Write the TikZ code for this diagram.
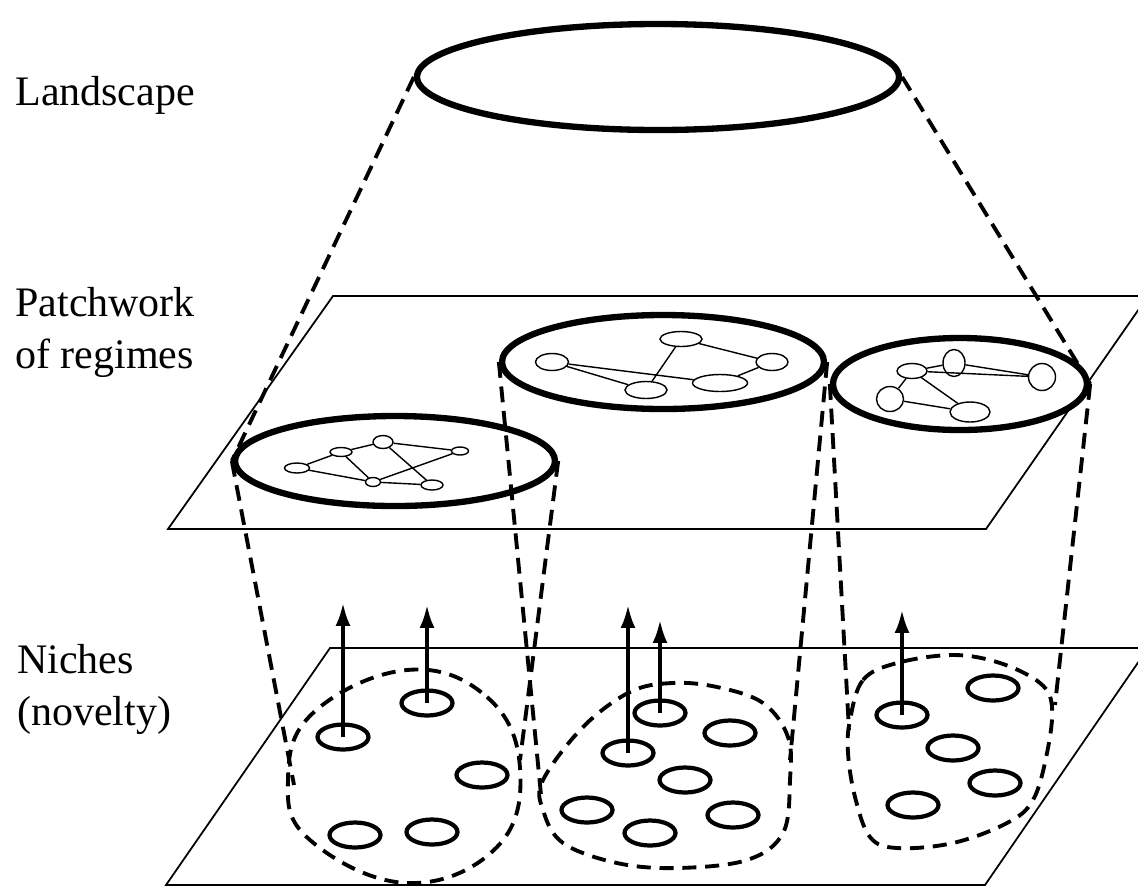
\documentclass[tikz,border=0pt]{standalone}
\usepackage{fontspec}
\setmainfont{Liberation Serif}
\usetikzlibrary{shapes.geometric,arrows.meta}
\tikzset{
    plane/.style={line width=1pt},
    regime/.style={draw, ellipse, line width=3.6pt, inner sep=0pt, fill=white},
    conn/.style={line width=2.2pt, dash pattern=on 9pt off 5pt},
    knot/.style={draw, ellipse, line width=0.8pt, inner sep=0pt, fill=white},
    link/.style={line width=0.8pt},
    niche/.style={draw, ellipse, line width=2.4pt, inner sep=0pt, minimum width=1.02cm, minimum height=0.5cm},
    blob/.style={line width=2.2pt, dash pattern=on 8pt off 5pt},
    rise/.style={line width=2pt, -{Latex[length=13pt,width=8.5pt]}},
    layer/.style={align=left, anchor=base west, inner sep=0pt, font=\fontsize{23.9}{29.5}\selectfont}
}
\newcommand{\knot}[5]{
    \node[knot, minimum width=#4*0.02cm, minimum height=#5*0.02cm] (#1) at (#2,#3) {}
}

\begin{document}
\begin{tikzpicture}[x=0.02cm,y=-0.02cm]
            \useasboundingbox (0,0) rectangle (1138,890);
            \clip (0,0) rectangle (1138,890);

            \node[layer] (landscape) at (15,105) {Landscape};
            \node[layer] (patchwork) at (15,368) {Patchwork\\of regimes};
            \node[layer] (niches) at (17,725) {Niches\\(novelty)};

            \draw[plane] (333,296) -- (1148,296) -- (986,529) -- (168,529) -- cycle;
            \draw[plane] (330,648) -- (1148,648) -- (985,885) -- (166,885) -- cycle;

            \draw[blob] plot[smooth cycle, tension=0.7] coordinates {(407,670) (487,697) (520,768) (497,847) (407,883) (310,840) (288,780) (313,713)};
            \draw[blob] plot[smooth cycle, tension=0.6] coordinates {(543,780) (583,727) (630,692) (672,683) (717,687) (763,703) (788,737) (790,780) (783,833) (747,860) (677,868) (617,863) (563,843) (543,810)};
            \draw[blob] plot[smooth cycle, tension=0.6] coordinates {(850,720) (863,680) (897,663) (953,655) (1000,663) (1040,683) (1052,707) (1047,753) (1033,800) (1007,823) (953,843) (897,848) (870,837) (855,797) (848,753)};

            \node[niche] (n1) at (343,737) {};
            \node[niche] (n2) at (427,703) {};
            \node[niche] (n3) at (482,775) {};
            \node[niche] (n4) at (355,835) {};
            \node[niche] (n5) at (432,832) {};
            \node[niche] (n6) at (660,713) {};
            \node[niche] (n7) at (730,733) {};
            \node[niche] (n8) at (628,753) {};
            \node[niche] (n9) at (685,780) {};
            \node[niche] (n10) at (587,810) {};
            \node[niche] (n11) at (650,833) {};
            \node[niche] (n12) at (733,815) {};
            \node[niche] (n13) at (902,715) {};
            \node[niche] (n14) at (993,688) {};
            \node[niche] (n15) at (953,748) {};
            \node[niche] (n16) at (995,783) {};
            \node[niche] (n17) at (913,805) {};

            \coordinate (t1) at (343,603);
            \coordinate (t2) at (427,605);
            \coordinate (t3) at (628,605);
            \coordinate (t4) at (660,620);
            \coordinate (t5) at (902,610);
            \draw[rise] (n1.center) -- (t1);
            \draw[rise] (n2.center) -- (t2);
            \draw[rise] (n8.center) -- (t3);
            \draw[rise] (n6.center) -- (t4);
            \draw[rise] (n13.center) -- (t5);

            \node[regime, minimum width=482*0.02cm, minimum height=106*0.02cm] (land) at (658,77) {};
            \node[regime, minimum width=320*0.02cm, minimum height=90*0.02cm] (reg1) at (395,461) {};
            \node[regime, minimum width=322*0.02cm, minimum height=94*0.02cm] (reg2) at (663,362) {};
            \node[regime, minimum width=254*0.02cm, minimum height=92*0.02cm] (reg3) at (960,384) {};

            \coordinate (b1) at (294,785);
            \coordinate (b2) at (520,760);
            \coordinate (b3) at (541,795);
            \coordinate (b4) at (790,760);
            \coordinate (b5) at (849,730);
            \coordinate (b6) at (1055,705);
            \draw[conn] (land.west) -- (reg1.west);
            \draw[conn] (land.east) -- (reg3.east);
            \draw[conn] (reg1.west) -- (b1);
            \draw[conn] (reg1.east) -- (b2);
            \draw[conn] (reg2.west) -- (b3);
            \draw[conn] (reg2.east) -- (b4);
            \draw[conn] (reg3.west) -- (b5);
            \draw[conn] (reg3.east) -- (b6);

            % left regime
            \knot{l1}{297}{468}{25}{10};
            \knot{l2}{341}{452}{22}{9};
            \knot{l3}{383}{442}{20}{13};
            \knot{l4}{460}{451}{17}{8};
            \knot{l5}{373}{482}{15}{9};
            \knot{l6}{432}{485}{22}{10};
            \draw[link] (l1) -- (l2) (l1) -- (l5) (l2) -- (l3) (l2) -- (l5)
                        (l3) -- (l4) (l3) -- (l6) (l5) -- (l4) (l5) -- (l6);

            % middle regime
            \knot{m1}{552}{362}{33}{17};
            \knot{m2}{681}{339}{42}{15};
            \knot{m3}{772}{362}{32}{17};
            \knot{m4}{646}{390}{42}{17};
            \knot{m5}{720}{383}{55}{17};
            \draw[link] (m1) -- (m4) (m1) -- (m5) (m2) -- (m4) (m2) -- (m3) (m5) -- (m3);

            % right regime
            \knot{r1}{912}{371}{30}{15};
            \knot{r2}{954}{363}{22}{27};
            \knot{r3}{1042}{377}{27}{27};
            \knot{r4}{890}{399}{27}{25};
            \knot{r5}{970}{412}{40}{20};
            \draw[link] (r1) -- (r2) (r2) -- (r3) (r1) -- (r3) (r1) -- (r5) (r1) -- (r4) (r4) -- (r5);
        \end{tikzpicture}
\end{document}
